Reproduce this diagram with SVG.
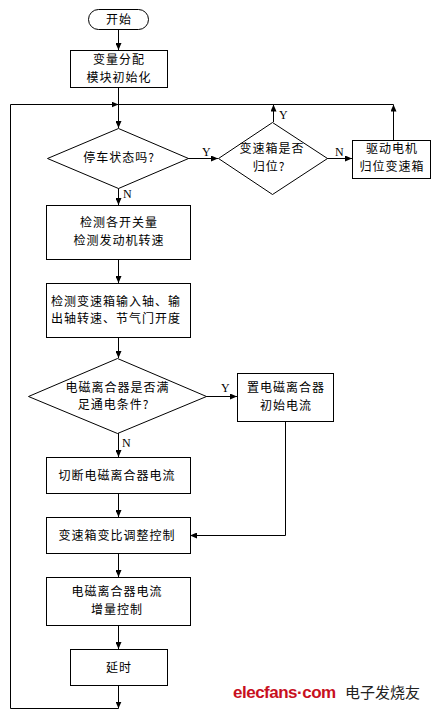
<svg xmlns="http://www.w3.org/2000/svg" width="437" height="712" viewBox="0 0 437 712">
<defs>
<style>
.s{fill:#fff;stroke:#000;stroke-width:1}
.c{fill:none;stroke:#000;stroke-width:1}
.t{font-family:"Noto Sans CJK SC","Noto Sans",sans-serif;font-size:12px;letter-spacing:1px;fill:#000;text-anchor:middle}
.l{font-family:"Liberation Serif",serif;font-size:12px;fill:#000}
</style>
<marker id="a" markerWidth="7" markerHeight="6" refX="7" refY="3" orient="auto" markerUnits="userSpaceOnUse">
<path d="M0,0 L7,3 L0,6 z" fill="#000"/>
</marker>
</defs>
<rect width="437" height="712" fill="#fff"/>
<g id="connectors">
<line class="c" x1="118.5" y1="30" x2="118.5" y2="50" marker-end="url(#a)"/>
<line class="c" x1="118.5" y1="87" x2="118.5" y2="128" marker-end="url(#a)"/>
<line class="c" x1="393.5" y1="104.5" x2="118.5" y2="104.5"/>
<path class="c" d="M118.5,708.5 L10.5,708.5 L10.5,104.5 L118.5,104.5" marker-end="url(#a)"/>
<line class="c" x1="188" y1="158.5" x2="218" y2="158.5" marker-end="url(#a)"/>
<line class="c" x1="273.5" y1="122" x2="273.5" y2="104.5" marker-end="url(#a)"/>
<line class="c" x1="327" y1="158.5" x2="352" y2="158.5" marker-end="url(#a)"/>
<line class="c" x1="393.5" y1="140" x2="393.5" y2="104.5" marker-end="url(#a)"/>
<line class="c" x1="118.5" y1="188" x2="118.5" y2="205" marker-end="url(#a)"/>
<line class="c" x1="118.5" y1="259" x2="118.5" y2="283" marker-end="url(#a)"/>
<line class="c" x1="118.5" y1="337" x2="118.5" y2="358" marker-end="url(#a)"/>
<line class="c" x1="206" y1="396.5" x2="237" y2="396.5" marker-end="url(#a)"/>
<line class="c" x1="118.5" y1="433" x2="118.5" y2="457" marker-end="url(#a)"/>
<line class="c" x1="118.5" y1="493" x2="118.5" y2="517" marker-end="url(#a)"/>
<path class="c" d="M285.5,421 L285.5,535.5 L190,535.5" marker-end="url(#a)"/>
<line class="c" x1="118.5" y1="553" x2="118.5" y2="577" marker-end="url(#a)"/>
<line class="c" x1="118.5" y1="625" x2="118.5" y2="649" marker-end="url(#a)"/>
<line class="c" x1="118.5" y1="685" x2="118.5" y2="708.5" marker-end="url(#a)"/>
<text class="l" x="202" y="156">Y</text>
<text class="l" x="279" y="119">Y</text>
<text class="l" x="335" y="156">N</text>
<text class="l" x="123" y="198">N</text>
<text class="l" x="221" y="392">Y</text>
<text class="l" x="122" y="447">N</text>
</g>
<g id="start">
<rect class="s" x="88.5" y="9.5" width="60" height="20" rx="10"/>
<text class="t" x="119" y="23.5">开始</text>
</g>
<g id="init">
<rect class="s" x="70.5" y="50.5" width="97" height="37"/>
<text class="t" x="119" y="64">变量分配<tspan x="119" dy="17.5">模块初始化</tspan></text>
</g>
<g id="parked">
<polygon class="s" points="118.5,128.5 188.5,158.5 118.5,188.5 47.5,158.5"/>
<text class="t" x="119" y="162">停车状态吗?</text>
</g>
<g id="gearbox-home">
<polygon class="s" points="272.5,122.5 327.5,158.5 272.5,194.5 218.5,158.5"/>
<text class="t" x="272" y="153">变速箱是否<tspan x="269" dy="17.5">归位?</tspan></text>
</g>
<g id="drive-motor">
<rect class="s" x="352.5" y="140.5" width="78" height="38"/>
<text class="t" x="392" y="153">驱动电机<tspan x="392" dy="17.5">归位变速箱</tspan></text>
</g>
<g id="detect1">
<rect class="s" x="46.5" y="205.5" width="144" height="54"/>
<text class="t" x="119" y="227">检测各开关量<tspan x="119" dy="17.5">检测发动机转速</tspan></text>
</g>
<g id="detect2">
<rect class="s" x="46.5" y="283.5" width="144" height="54"/>
<text class="t" x="116" y="305.5">检测变速箱输入轴、输<tspan x="116" dy="17.5">出轴转速、节气门开度</tspan></text>
</g>
<g id="clutch-cond">
<polygon class="s" points="117.5,358.5 206.5,396.5 117.5,433.5 28.5,396.5"/>
<text class="t" x="117.5" y="391.5">电磁离合器是否满<tspan x="113.5" dy="17.5">足通电条件?</tspan></text>
</g>
<g id="clutch-init">
<rect class="s" x="237.5" y="373.5" width="96" height="48"/>
<text class="t" x="286" y="392">置电磁离合器<tspan x="286" dy="17.5">初始电流</tspan></text>
</g>
<g id="cut">
<rect class="s" x="46.5" y="457.5" width="144" height="36"/>
<text class="t" x="117" y="479.5">切断电磁离合器电流</text>
</g>
<g id="ratio">
<rect class="s" x="46.5" y="517.5" width="144" height="36"/>
<text class="t" x="117" y="539.5">变速箱变比调整控制</text>
</g>
<g id="increment">
<rect class="s" x="46.5" y="577.5" width="144" height="48"/>
<text class="t" x="117" y="596">电磁离合器电流<tspan x="117" dy="17.5">增量控制</tspan></text>
</g>
<g id="delay">
<rect class="s" x="70.5" y="649.5" width="97" height="36"/>
<text class="t" x="119" y="671.5">延时</text>
</g>
<g id="watermark">
<text x="233" y="698" style="font-family:'Liberation Sans',sans-serif;font-size:17px;font-weight:bold;fill:#c8101e;letter-spacing:-0.5px">elecfans·com</text>
<text x="345" y="698" style="font-family:'Noto Sans CJK SC',sans-serif;font-size:15px;fill:#222">电子发烧友</text>
</g>
</svg>
